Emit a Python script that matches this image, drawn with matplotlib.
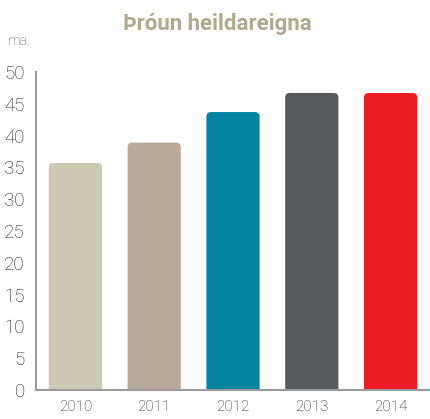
import matplotlib
matplotlib.use("Agg")
import matplotlib.pyplot as plt
from matplotlib.patches import FancyBboxPatch

years = ["2010", "2011", "2012", "2013", "2014"]
assets = [35.7, 38.9, 43.7, 46.7, 46.7]
bar_colors = ["#cccab3", "#b8aa99", "#0283a0", "#58595b", "#ed1c24"]
y_ticks = [0, 5, 10, 15, 20, 25, 30, 35, 40, 45, 50]

plt.rcParams["font.family"] = ["Roboto", "DejaVu Sans"]

fig = plt.figure(figsize=(4.30, 4.19), dpi=100)
ax = fig.add_axes([0.0837, 0.0692, 0.9163, 0.7590])

bars = ax.bar(range(len(years)), assets, width=0.675, color=bar_colors)

# rounded tops: swap each bar for a rounded patch of the same bounds
for b in bars:
    x, w, h = b.get_x(), b.get_width(), b.get_height()
    b.set_visible(False)
    patch = FancyBboxPatch(
        (x, -2), w, h + 2,
        boxstyle="round,pad=0,rounding_size=0.06",
        mutation_aspect=12.0,
        facecolor=b.get_facecolor(),
        edgecolor="none",
    )
    ax.add_patch(patch)

ax.set_xlim(-0.5, 4.5)
ax.set_ylim(0, 50)
ax.set_yticks(y_ticks)
ax.set_xticks(range(len(years)))
ax.set_xticklabels(years)
ax.tick_params(axis="both", length=0, colors="#1e1e1e")
ax.tick_params(axis="y", pad=8, labelsize=13.5)
ax.tick_params(axis="x", pad=7, labelsize=11)
for lbl in ax.get_xticklabels() + ax.get_yticklabels():
    lbl.set_fontweight("light")

for side in ["top", "right"]:
    ax.spines[side].set_visible(False)
for side in ["left", "bottom"]:
    ax.spines[side].set_color("#9a9a9a")
    ax.spines[side].set_linewidth(1.5)

fig.text(0.505, 0.943, "Þróun heildareigna", ha="center", va="center",
         fontsize=16, fontweight="bold", color="#b0a88f")
fig.text(0.018, 0.902, "ma.", ha="left", va="center",
         fontsize=10, fontweight="light", color="#555555")

fig.savefig("out.png", dpi=100)
